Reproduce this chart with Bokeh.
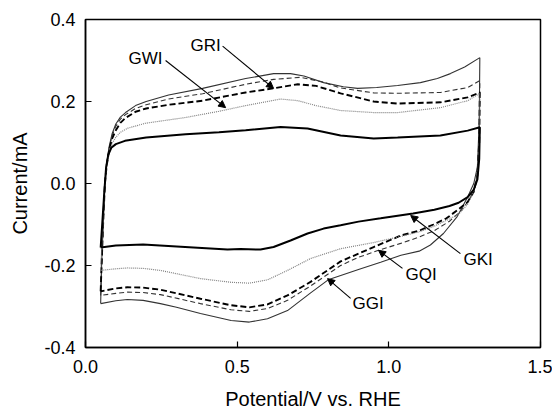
from bokeh.plotting import figure
from bokeh.models import Range1d, FixedTicker, PrintfTickFormatter, Arrow, NormalHead
from bokeh.core.properties import value
from bokeh.embed import file_html
from bokeh.resources import INLINE

# ---- data (potential V vs RHE, current mA); each loop = anodic then cathodic sweep ----
GGI_E = [0.05, 0.053, 0.058, 0.064, 0.07, 0.078, 0.088, 0.1, 0.115, 0.132, 0.165, 0.2, 0.274, 0.386, 0.528, 0.62, 0.676, 0.72, 0.785, 0.85, 0.897, 0.96, 1.029, 1.104, 1.16, 1.203, 1.25, 1.3,
         1.298, 1.292, 1.28, 1.259, 1.226, 1.18, 1.137, 1.10, 1.04, 0.973, 0.9, 0.8, 0.74, 0.666, 0.6, 0.54, 0.48, 0.379, 0.3, 0.247, 0.19, 0.138, 0.1, 0.05]
GGI_I = [-0.293, -0.2, -0.1, 0.0, 0.05, 0.09, 0.122, 0.145, 0.162, 0.173, 0.19, 0.2, 0.216, 0.232, 0.256, 0.268, 0.268, 0.262, 0.246, 0.236, 0.232, 0.234, 0.239, 0.246, 0.256, 0.268, 0.284, 0.307,
         0.15, 0.04, 0.0, -0.034, -0.08, -0.122, -0.15, -0.165, -0.175, -0.192, -0.21, -0.235, -0.268, -0.31, -0.33, -0.338, -0.334, -0.317, -0.302, -0.293, -0.285, -0.283, -0.286, -0.293]

GQI_E = [0.05, 0.053, 0.058, 0.064, 0.07, 0.078, 0.088, 0.1, 0.115, 0.132, 0.165, 0.2, 0.274, 0.386, 0.528, 0.62, 0.709, 0.78, 0.841, 0.95, 1.029, 1.17, 1.26, 1.3,
         1.298, 1.292, 1.28, 1.26, 1.236, 1.2, 1.15, 1.095, 1.039, 0.966, 0.9, 0.841, 0.742, 0.666, 0.6, 0.54, 0.48, 0.379, 0.247, 0.19, 0.138, 0.1, 0.05]
GQI_I = [-0.273, -0.2, -0.1, 0.0, 0.048, 0.087, 0.117, 0.14, 0.157, 0.168, 0.183, 0.192, 0.206, 0.219, 0.242, 0.254, 0.259, 0.248, 0.233, 0.221, 0.22, 0.222, 0.234, 0.251,
         0.1, 0.02, -0.02, -0.045, -0.068, -0.092, -0.115, -0.132, -0.146, -0.163, -0.18, -0.2, -0.25, -0.285, -0.305, -0.312, -0.308, -0.293, -0.271, -0.266, -0.265, -0.268, -0.273]

GRI_E = [0.05, 0.053, 0.058, 0.064, 0.07, 0.078, 0.088, 0.1, 0.115, 0.132, 0.165, 0.2, 0.274, 0.386, 0.528, 0.62, 0.7, 0.76, 0.841, 0.95, 1.029, 1.17, 1.26, 1.3,
         1.298, 1.292, 1.28, 1.26, 1.226, 1.19, 1.147, 1.1, 1.039, 0.95, 0.841, 0.742, 0.666, 0.6, 0.54, 0.48, 0.379, 0.247, 0.19, 0.138, 0.1, 0.05]
GRI_I = [-0.263, -0.2, -0.1, 0.0, 0.045, 0.082, 0.11, 0.13, 0.148, 0.16, 0.175, 0.183, 0.192, 0.202, 0.222, 0.232, 0.242, 0.238, 0.22, 0.2, 0.195, 0.198, 0.21, 0.222,
         0.1, 0.02, -0.02, -0.045, -0.065, -0.085, -0.1, -0.115, -0.127, -0.155, -0.19, -0.24, -0.273, -0.295, -0.302, -0.297, -0.281, -0.259, -0.254, -0.253, -0.256, -0.263]

GWI_E = [0.05, 0.054, 0.058, 0.064, 0.07, 0.078, 0.088, 0.1, 0.115, 0.14, 0.198, 0.33, 0.439, 0.528, 0.643, 0.7, 0.76, 0.841, 0.95, 1.029, 1.17, 1.26, 1.3,
         1.298, 1.292, 1.28, 1.26, 1.23, 1.19, 1.147, 1.1, 1.039, 0.95, 0.841, 0.742, 0.666, 0.6, 0.54, 0.48, 0.379, 0.3, 0.247, 0.19, 0.138, 0.1, 0.05]
GWI_I = [-0.212, -0.15, -0.1, 0.0, 0.04, 0.075, 0.098, 0.113, 0.125, 0.135, 0.147, 0.161, 0.176, 0.19, 0.206, 0.202, 0.19, 0.178, 0.173, 0.173, 0.185, 0.202, 0.22,
         0.1, 0.02, -0.02, -0.05, -0.075, -0.09, -0.105, -0.118, -0.129, -0.144, -0.159, -0.183, -0.212, -0.235, -0.243, -0.241, -0.232, -0.22, -0.212, -0.207, -0.206, -0.208, -0.212]

GKI_E = [0.05, 0.055, 0.062, 0.068, 0.075, 0.085, 0.1, 0.13, 0.2, 0.33, 0.44, 0.528, 0.643, 0.732, 0.841, 0.95, 1.029, 1.17, 1.26, 1.3,
         1.298, 1.292, 1.28, 1.26, 1.23, 1.2, 1.15, 1.08, 0.973, 0.9, 0.841, 0.785, 0.732, 0.676, 0.62, 0.577, 0.511, 0.468, 0.356, 0.19, 0.1, 0.05]
GKI_I = [-0.156, -0.1, -0.02, 0.04, 0.07, 0.087, 0.096, 0.104, 0.112, 0.12, 0.125, 0.13, 0.138, 0.134, 0.117, 0.11, 0.112, 0.117, 0.129, 0.137,
         0.06, 0.01, -0.015, -0.033, -0.047, -0.055, -0.064, -0.073, -0.085, -0.093, -0.102, -0.11, -0.122, -0.139, -0.155, -0.161, -0.16, -0.161, -0.156, -0.149, -0.151, -0.156]

X_TICKS = [0.0, 0.5, 1.0, 1.5]
Y_TICKS = [-0.4, -0.2, 0.0, 0.2, 0.4]

# annotation placements (label text anchor, arrow tail, arrow tip) in data units
LABELS = ["GWI", "GRI", "GKI", "GQI", "GGI"]
LABEL_X = [0.142, 0.346, 1.246, 1.055, 0.880]
LABEL_Y = [0.305, 0.337, -0.185, -0.222, -0.293]
ARROW_X0 = [0.264, 0.452, 1.236, 1.045, 0.874]
ARROW_Y0 = [0.300, 0.335, -0.171, -0.207, -0.280]
ARROW_X1 = [0.462, 0.620, 1.072, 0.966, 0.798]
ARROW_Y1 = [0.185, 0.232, -0.078, -0.163, -0.232]

FONT = "Liberation Sans"

p = figure(width=552, height=413, output_backend="svg", toolbar_location=None,
           x_range=Range1d(0, 1.5), y_range=Range1d(-0.4, 0.4),
           min_border_left=85, min_border_right=12, min_border_top=19, min_border_bottom=66)
p.background_fill_color = "white"
p.border_fill_color = "white"
p.outline_line_color = "black"
p.outline_line_width = 1.5
p.xgrid.visible = False
p.ygrid.visible = False

# curves
p.line(GGI_E, GGI_I, line_color="#333333", line_width=1.1)
p.line(GQI_E, GQI_I, line_color="#333333", line_width=1.1, line_dash="5 3")
p.line(GRI_E, GRI_I, line_color="black", line_width=1.9, line_dash="6 3")
p.line(GWI_E, GWI_I, line_color="#808080", line_width=1.2, line_dash="1 1")
p.line(GKI_E, GKI_I, line_color="black", line_width=2.0)

# labels and arrows
p.text(x=LABEL_X, y=LABEL_Y, text=LABELS, text_font=value(FONT), text_font_size="17px",
       text_baseline="middle", text_align="left", text_color="black")
for x0, y0, x1, y1 in zip(ARROW_X0, ARROW_Y0, ARROW_X1, ARROW_Y1):
    p.add_layout(Arrow(x_start=x0, y_start=y0, x_end=x1, y_end=y1, line_width=1.1, line_color="black",
                       end=NormalHead(size=7, fill_color="black", line_color="black")))

# axes
for ax in (p.xaxis[0], p.yaxis[0]):
    ax.axis_line_color = "black"
    ax.axis_line_width = 1.5
    ax.major_tick_in = 6
    ax.major_tick_out = 0
    ax.minor_tick_in = 0
    ax.minor_tick_out = 0
    ax.major_tick_line_color = "black"
    ax.major_tick_line_width = 1.2
    ax.major_label_text_font = FONT
    ax.major_label_text_font_size = "18px"
    ax.major_label_text_color = "black"
    ax.axis_label_text_font = FONT
    ax.axis_label_text_font_size = "20px"
    ax.axis_label_text_font_style = "normal"
    ax.axis_label_text_color = "black"
    ax.formatter = PrintfTickFormatter(format="%.1f")

p.xaxis.ticker = FixedTicker(ticks=X_TICKS)
p.yaxis.ticker = FixedTicker(ticks=Y_TICKS)
p.xaxis.axis_label = "Potential/V vs. RHE"
p.yaxis.axis_label = "Current/mA"
p.xaxis.major_label_standoff = 12
p.yaxis.major_label_standoff = 10
p.xaxis.axis_label_standoff = 12
p.yaxis.axis_label_standoff = 10

open("out.html", "w").write(file_html(p, INLINE))
